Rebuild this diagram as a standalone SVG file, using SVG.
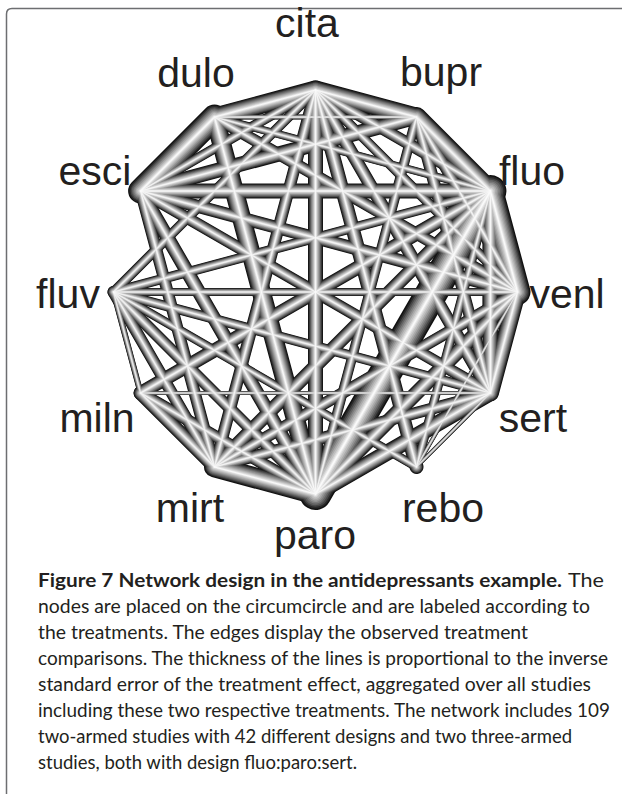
<svg xmlns="http://www.w3.org/2000/svg" width="622" height="794" viewBox="0 0 622 794">
<style>
.net line{stroke-width:calc(var(--w) * var(--k));stroke-linecap:round;fill:none}
.k1{--k:1;stroke:#111}
.k2{--k:0.9;stroke:#282828}
.k3{--k:0.8;stroke:#464646}
.k4{--k:0.7;stroke:#616161}
.k5{--k:0.6;stroke:#7a7a7a}
.k6{--k:0.5;stroke:#929292}
.k7{--k:0.4;stroke:#aaaaaa}
.k8{--k:0.3;stroke:#c0c0c0}
.k9{--k:0.2;stroke:#d5d5d5}
.k10{--k:0.12;stroke:#e9e9e9}
.k11{--k:0.05;stroke:#fafafa}
.lab{font-family:"Liberation Sans",Arial,sans-serif;font-size:41px;fill:#231f20;text-anchor:middle}
.cap{font-family:Lato,"Liberation Sans",sans-serif;font-size:18.5px;fill:#231f20}
.capb{font-weight:bold}
</style>
<defs>
<g id="net" class="net">
<line x1="315.5" y1="90" x2="416.5" y2="117.1" style="--w:19px"/>
<line x1="416.5" y1="117.1" x2="490.4" y2="191" style="--w:20px"/>
<line x1="490.4" y1="191" x2="517.5" y2="292" style="--w:26px"/>
<line x1="517.5" y1="292" x2="490.4" y2="393" style="--w:17px"/>
<line x1="490.4" y1="393" x2="416.5" y2="466.9" style="--w:4px"/>
<line x1="315.5" y1="494" x2="214.5" y2="466.9" style="--w:21px"/>
<line x1="214.5" y1="466.9" x2="140.6" y2="393" style="--w:14px"/>
<line x1="140.6" y1="393" x2="113.5" y2="292" style="--w:6px"/>
<line x1="140.6" y1="191" x2="214.5" y2="117.1" style="--w:25px"/>
<line x1="214.5" y1="117.1" x2="315.5" y2="90" style="--w:19px"/>
<line x1="315.5" y1="494" x2="490.4" y2="393" style="--w:16px"/>
<line x1="113.5" y1="292" x2="315.5" y2="90" style="--w:10px"/>
<line x1="113.5" y1="292" x2="490.4" y2="191" style="--w:10px"/>
<line x1="113.5" y1="292" x2="517.5" y2="292" style="--w:8px"/>
<line x1="113.5" y1="292" x2="490.4" y2="393" style="--w:10px"/>
<line x1="113.5" y1="292" x2="416.5" y2="466.9" style="--w:9px"/>
<line x1="113.5" y1="292" x2="315.5" y2="494" style="--w:12px"/>
<line x1="113.5" y1="292" x2="214.5" y2="466.9" style="--w:12px"/>
<line x1="140.6" y1="393" x2="490.4" y2="393" style="--w:4px"/>
<line x1="140.6" y1="393" x2="490.4" y2="191" style="--w:14px"/>
<line x1="140.6" y1="393" x2="315.5" y2="494" style="--w:12px"/>
<line x1="214.5" y1="466.9" x2="490.4" y2="393" style="--w:12px"/>
<line x1="214.5" y1="466.9" x2="517.5" y2="292" style="--w:12px"/>
<line x1="214.5" y1="466.9" x2="490.4" y2="191" style="--w:14px"/>
<line x1="214.5" y1="466.9" x2="315.5" y2="90" style="--w:12px"/>
<line x1="214.5" y1="466.9" x2="140.6" y2="191" style="--w:12px"/>
<line x1="315.5" y1="494" x2="490.4" y2="191" style="--w:32px"/>
<line x1="315.5" y1="494" x2="517.5" y2="292" style="--w:15px"/>
<line x1="315.5" y1="494" x2="315.5" y2="90" style="--w:15px"/>
<line x1="315.5" y1="494" x2="214.5" y2="117.1" style="--w:19px"/>
<line x1="315.5" y1="494" x2="140.6" y2="191" style="--w:14px"/>
<line x1="315.5" y1="494" x2="416.5" y2="117.1" style="--w:10px"/>
<line x1="140.6" y1="191" x2="490.4" y2="191" style="--w:15px"/>
<line x1="140.6" y1="191" x2="517.5" y2="292" style="--w:13px"/>
<line x1="140.6" y1="191" x2="490.4" y2="393" style="--w:12px"/>
<line x1="140.6" y1="191" x2="315.5" y2="90" style="--w:10px"/>
<line x1="140.6" y1="191" x2="416.5" y2="117.1" style="--w:15px"/>
<line x1="214.5" y1="117.1" x2="490.4" y2="191" style="--w:8px"/>
<line x1="214.5" y1="117.1" x2="517.5" y2="292" style="--w:12px"/>
<line x1="214.5" y1="117.1" x2="416.5" y2="117.1" style="--w:5px"/>
<line x1="315.5" y1="90" x2="490.4" y2="191" style="--w:12px"/>
<line x1="315.5" y1="90" x2="517.5" y2="292" style="--w:10px"/>
<line x1="315.5" y1="90" x2="490.4" y2="393" style="--w:13px"/>
<line x1="315.5" y1="90" x2="416.5" y2="466.9" style="--w:14px"/>
<line x1="416.5" y1="117.1" x2="517.5" y2="292" style="--w:12px"/>
<line x1="416.5" y1="117.1" x2="490.4" y2="393" style="--w:12px"/>
<line x1="490.4" y1="191" x2="490.4" y2="393" style="--w:16px"/>
<line x1="416.5" y1="466.9" x2="490.4" y2="191" style="--w:9px"/>
<line x1="416.5" y1="466.9" x2="517.5" y2="292" style="--w:4px"/>
</g>
</defs>
<rect width="622" height="794" fill="#fff"/>
<path d="M6.5,794 V14 Q6.5,8.5 12,8.5 H622" fill="none" stroke="#6d6e71" stroke-width="1.5"/>
<g id="connectors">
<use href="#net" class="k1"/>
<use href="#net" class="k2"/>
<use href="#net" class="k3"/>
<use href="#net" class="k4"/>
<use href="#net" class="k5"/>
<use href="#net" class="k6"/>
<use href="#net" class="k7"/>
<use href="#net" class="k8"/>
<use href="#net" class="k9"/>
<use href="#net" class="k10"/>
<use href="#net" class="k11"/>
</g>
<g id="node-cita"><text class="lab" x="307" y="37">cita</text></g>
<g id="node-dulo"><text class="lab" x="196" y="87">dulo</text></g>
<g id="node-bupr"><text class="lab" x="441" y="86">bupr</text></g>
<g id="node-esci"><text class="lab" x="95" y="185">esci</text></g>
<g id="node-fluo"><text class="lab" x="532" y="185">fluo</text></g>
<g id="node-fluv"><text class="lab" x="68" y="308">fluv</text></g>
<g id="node-venl"><text class="lab" x="567" y="308">venl</text></g>
<g id="node-miln"><text class="lab" x="97" y="432">miln</text></g>
<g id="node-sert"><text class="lab" x="533" y="432">sert</text></g>
<g id="node-mirt"><text class="lab" x="190" y="522">mirt</text></g>
<g id="node-rebo"><text class="lab" x="443" y="522">rebo</text></g>
<g id="node-paro"><text class="lab" x="315" y="549">paro</text></g>
<g id="caption">
<text class="cap capb" x="38" y="587" textLength="524" lengthAdjust="spacingAndGlyphs">Figure 7 Network design in the antidepressants example.</text>
<text class="cap" x="568" y="587" textLength="36" lengthAdjust="spacingAndGlyphs">The</text>
<text class="cap" x="38" y="613" textLength="552" lengthAdjust="spacingAndGlyphs">nodes are placed on the circumcircle and are labeled according to</text>
<text class="cap" x="38" y="639" textLength="490" lengthAdjust="spacingAndGlyphs">the treatments. The edges display the observed treatment</text>
<text class="cap" x="38" y="665" textLength="570" lengthAdjust="spacingAndGlyphs">comparisons. The thickness of the lines is proportional to the inverse</text>
<text class="cap" x="38" y="691" textLength="553" lengthAdjust="spacingAndGlyphs">standard error of the treatment effect, aggregated over all studies</text>
<text class="cap" x="38" y="717" textLength="572" lengthAdjust="spacingAndGlyphs">including these two respective treatments. The network includes 109</text>
<text class="cap" x="38" y="743" textLength="534" lengthAdjust="spacingAndGlyphs">two-armed studies with 42 different designs and two three-armed</text>
<text class="cap" x="38" y="769" textLength="319" lengthAdjust="spacingAndGlyphs">studies, both with design fluo:paro:sert.</text>
</g>
</svg>
